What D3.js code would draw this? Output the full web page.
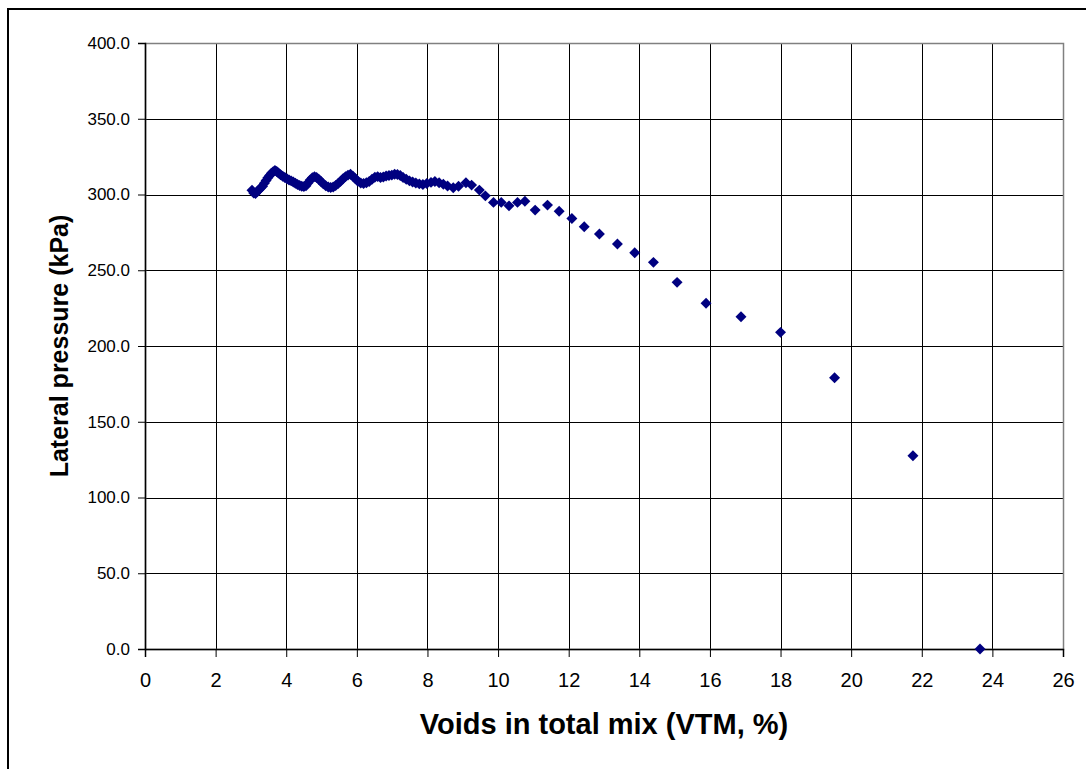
<!DOCTYPE html>
<html>
<head>
<meta charset="utf-8">
<script src="https://cdn.jsdelivr.net/npm/d3@7"></script>
<style>
  body { margin: 0; background: #fff; }
  text { font-family: "Liberation Sans", Arial, sans-serif; }
</style>
</head>
<body>
<div id="chart"></div>
<script>
// VTM values (%)
var vtm = [3.03, 3.08, 3.13, 3.18, 3.23, 3.28, 3.33, 3.38, 3.43, 3.48, 3.53, 3.58, 3.63, 3.68, 3.73, 3.78,
    3.84, 3.90, 3.96, 4.02, 4.08, 4.14, 4.20, 4.26, 4.32, 4.38, 4.44, 4.50, 4.56, 4.62, 4.68, 4.74,
    4.80, 4.86, 4.92, 4.98, 5.05, 5.12, 5.19, 5.26, 5.33, 5.40, 5.47, 5.54, 5.61, 5.68, 5.75, 5.82,
    5.89, 5.96, 6.03, 6.11, 6.19, 6.27, 6.35, 6.43, 6.51, 6.59, 6.67, 6.75, 6.83, 6.91, 6.99, 7.07,
    7.15, 7.23, 7.31, 7.40, 7.49, 7.58, 7.67, 7.77, 7.87, 7.98, 8.10, 8.21, 8.33, 8.45, 8.57, 8.73,
    8.88, 9.09, 9.25, 9.47, 9.64, 9.87, 10.09, 10.31, 10.55, 10.76, 11.05, 11.40, 11.73, 12.09, 12.44, 12.87,
    13.38, 13.87, 14.40, 15.07, 15.89, 16.88, 18.00, 19.53, 21.75, 23.65];

// lateral pressure (kPa)
var pressure = [302.8, 301.0, 300.6, 302.0, 303.2, 304.5, 305.5, 307.5, 309.2, 311.0, 312.6, 314.0, 315.0, 315.8, 315.2, 314.2,
    313.0, 312.0, 311.2, 310.4, 309.6, 309.0, 308.2, 307.4, 306.6, 306.0, 305.4, 305.2, 305.8, 307.8, 309.6, 311.0,
    311.8, 311.2, 310.0, 308.8, 307.0, 305.8, 305.0, 304.6, 305.0, 306.0, 307.2, 308.8, 310.4, 311.8, 312.8, 313.4,
    312.0, 310.4, 308.8, 307.6, 307.2, 307.8, 308.6, 310.0, 311.4, 311.8, 311.2, 311.6, 312.2, 312.6, 312.8, 313.4,
    313.2, 312.6, 311.2, 310.0, 309.0, 308.2, 307.6, 307.0, 306.6, 307.2, 308.0, 308.6, 307.8, 306.8, 305.6, 304.4,
    305.5, 307.7, 306.2, 302.9, 299.1, 294.8, 294.8, 292.5, 294.8, 295.6, 289.7, 293.0, 289.0, 284.2, 278.7, 273.9,
    267.3, 261.5, 255.2, 242.0, 228.2, 219.3, 209.0, 179.1, 127.5, 0.0];

var xTicks = [0, 2, 4, 6, 8, 10, 12, 14, 16, 18, 20, 22, 24, 26];
var yTicks = [0, 50, 100, 150, 200, 250, 300, 350, 400];

var xTitle = "Voids in total mix (VTM, %)";
var yTitle = "Lateral pressure (kPa)";

var data = vtm.map(function (v, i) { return {x: v, y: pressure[i]}; });

var margin = {top: 43, right: 23, bottom: 120, left: 145},
    totalWidth = 1086,
    totalHeight = 769,
    width = totalWidth - margin.left - margin.right,
    height = totalHeight - margin.top - margin.bottom;

var root = d3.select("#chart")
    .append("svg")
    .attr("width", totalWidth)
    .attr("height", totalHeight);

// outer chart frame (runs off the right/bottom edge)
root.append("rect")
    .attr("x", 8)
    .attr("y", 9)
    .attr("width", 1100)
    .attr("height", 800)
    .attr("fill", "none")
    .attr("stroke", "#000")
    .attr("stroke-width", 2);

var svg = root.append("g")
    .attr("transform", "translate(" + margin.left + "," + margin.top + ")");

var x = d3.scaleLinear()
    .domain([0, 26])
    .range([0, width]);

var y = d3.scaleLinear()
    .domain([0, 400])
    .range([height, 0]);

// grid
svg.append("g")
    .attr("class", "grid-x")
    .selectAll("line")
    .data(xTicks.slice(1))
    .enter()
    .append("line")
    .attr("x1", function (d) { return Math.round(x(d)) + 0.5; })
    .attr("x2", function (d) { return Math.round(x(d)) + 0.5; })
    .attr("y1", 0)
    .attr("y2", height)
    .attr("stroke", "#000")
    .attr("stroke-width", 1);

svg.append("g")
    .attr("class", "grid-y")
    .selectAll("line")
    .data(yTicks.slice(1))
    .enter()
    .append("line")
    .attr("x1", 0)
    .attr("x2", width)
    .attr("y1", function (d) { return Math.round(y(d)) + 0.5; })
    .attr("y2", function (d) { return Math.round(y(d)) + 0.5; })
    .attr("stroke", "#000")
    .attr("stroke-width", 1);

// plot area border (grey)
svg.append("rect")
    .attr("x", 0.5)
    .attr("y", 0.5)
    .attr("width", width)
    .attr("height", height)
    .attr("fill", "none")
    .attr("stroke", "#808080")
    .attr("stroke-width", 1.5);

// axes
var xAxis = svg.append("g")
    .attr("transform", "translate(0," + height + ")")
    .call(d3.axisBottom(x).tickValues(xTicks).tickSize(8).tickPadding(16).tickFormat(d3.format("d")));

var yAxis = svg.append("g")
    .call(d3.axisLeft(y).tickValues(yTicks).tickSize(7).tickPadding(8).tickFormat(d3.format(".1f")));

[xAxis, yAxis].forEach(function (a) {
    a.select(".domain").attr("stroke", "#000").attr("stroke-width", 1.5);
    a.selectAll(".tick line").attr("stroke", "#000");
    a.selectAll("text").attr("fill", "#000").style("font-family", "'Liberation Sans', Arial, sans-serif");
});
xAxis.selectAll("text").style("font-size", "20px");
yAxis.selectAll("text").style("font-size", "17px");

// data points (diamonds)
svg.append("g")
    .selectAll("path")
    .data(data)
    .enter()
    .append("path")
    .attr("d", d3.symbol(d3.symbolSquare, 60))
    .attr("transform", function (d) { return "translate(" + x(d.x) + "," + y(d.y) + ") rotate(45)"; })
    .attr("fill", "#000080");

// axis titles
root.append("text")
    .attr("x", margin.left + width / 2)
    .attr("y", 734)
    .attr("text-anchor", "middle")
    .attr("font-weight", "bold")
    .attr("font-size", "29px")
    .attr("fill", "#000")
    .text(xTitle);

root.append("text")
    .attr("transform", "translate(68," + (margin.top + height / 2) + ") rotate(-90)")
    .attr("text-anchor", "middle")
    .attr("font-weight", "bold")
    .attr("font-size", "25px")
    .attr("fill", "#000")
    .text(yTitle);
</script>
</body>
</html>
